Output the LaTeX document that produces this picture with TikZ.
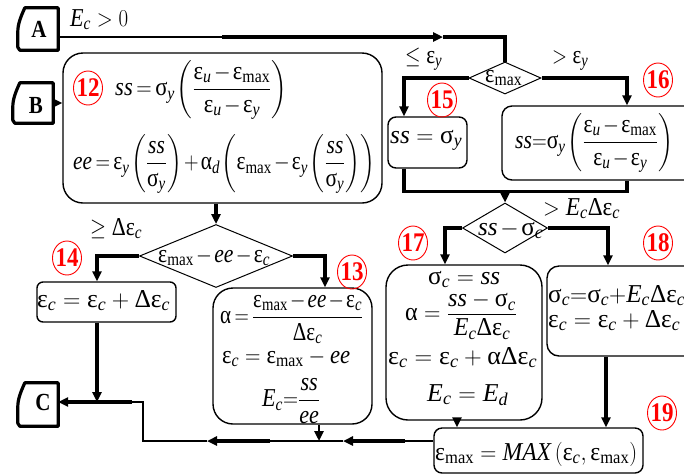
\documentclass[tikz,border=0pt]{standalone}
\usepackage{amsmath}
\usepackage{fontspec}
\setmainfont{Liberation Serif}
\usepackage{graphicx}
\usetikzlibrary{arrows.meta,shapes.geometric,calc}
\newcommand\Eps{\text{ε}}
\newcommand\Sig{\text{σ}}
\newcommand\Alp{\text{α}}
\newcommand\Del{\text{Δ}}
\newcommand\Vi[1]{\text{\itshape #1}}
\newcommand\Mx{\text{max}}
\newcommand\sy[1]{\scalebox{1}[1.17]{#1}}
\newcommand\fw[2]{\resizebox{#1pt}{1.17\height}{#2}}
\newcommand\shiftpart[2]{\smash{\raisebox{#1}{$\displaystyle #2$}}}
\newcommand\tight{\thinmuskip=1.5mu\medmuskip=2mu\thickmuskip=3mu}
\newcommand\tape[1]{\draw[tapeline] ($(#1.north west)+(7,0)$) .. controls ($(#1.north west)+(3,9)$) and ($(#1.north west)+(0,16)$) .. ($(#1.north west)+(0,24)$) -- ($(#1.south west)+(0,-3)$) -- ($(#1.south west)+(2,0)$) -- (#1.south east) -- (#1.north east) -- cycle;}
\begin{document}
\begin{tikzpicture}[x=1pt,y=-1pt,>={Triangle[length=10pt,width=9pt]},
  thickc/.style={line width=3.5pt},
  thinc/.style={line width=1.8pt},
  medc/.style={line width=2.5pt},
  box/.style={draw, rectangle, line width=1.4pt, inner sep=0pt},
  dia/.style={draw, diamond, line width=1pt, inner sep=0pt},
  tapeline/.style={line width=3.2pt, line join=round},
  tapebox/.style={rectangle, inner sep=0pt},
  lett/.style={inner sep=0pt, font=\fontsize{21}{21}\selectfont\bfseries},
  numtxt/.style={inner sep=0pt, text=red, font=\fontsize{23}{23}\selectfont\bfseries},
  numring/.style={draw=red, line width=0.9pt},
  eq/.style={inner sep=0pt, anchor=base west, font=\fontsize{22}{26}\selectfont},
  eqt/.style={eq, font=\fontsize{22}{26}\selectfont\tight}]
\useasboundingbox (0,0) rectangle (684,475);
\clip (0,0) rectangle (684,475);
% terminal boxes
\node[tapebox, minimum width=40pt, minimum height=42pt] (A) at (38,29) {};
\node[tapebox, minimum width=40pt, minimum height=40pt] (B) at (33,103) {};
\node[tapebox, minimum width=40pt, minimum height=43pt] (C) at (38,404.5) {};
\tape{A}\tape{B}\tape{C}
\node[lett] (tA) at (39,29) {\sy{A}};
\node[lett] (tB) at (36,105) {\sy{B}};
\node[lett] (tC) at (43,402) {\sy{C}};
% process boxes
\node[box, rounded corners=20pt, minimum width=319pt, minimum height=150pt] (b12) at (222.5,128) {};
\node[box, rounded corners=8pt, minimum width=79pt, minimum height=51pt] (b15) at (427.5,142.5) {};
\node[box, rounded corners=10pt, minimum width=198pt, minimum height=74pt] (b16) at (601,143) {};
\node[box, rounded corners=6pt, minimum width=139pt, minimum height=40pt] (b14) at (106.5,302) {};
\node[box, rounded corners=20pt, minimum width=159pt, minimum height=136pt] (b13) at (292.5,356) {};
\node[box, rounded corners=22pt, minimum width=156pt, minimum height=155pt] (b17) at (464,342.5) {};
\node[box, rounded corners=12pt, minimum width=153pt, minimum height=90pt] (b18) at (623.5,311) {};
\node[box, rounded corners=8pt, minimum width=209pt, minimum height=45pt] (b19) at (538.5,450.5) {};
% decisions
\node[dia, minimum width=72pt, minimum height=32pt] (D1) at (505,78) {};
\node[dia, minimum width=85pt, minimum height=50pt] (D2) at (505,228) {};
\node[dia, minimum width=153pt, minimum height=63pt] (D3) at (216,256) {};
% labels on branches
\node[eq] (lEc) at (70,26) {\fw{58}{$\Vi{E}_{\Vi c}>0$}};
\node[eq] (lle) at (405,63) {\fw{37}{$\le\Eps_{\Vi y}$}};
\node[eq] (lgt) at (552,63) {\fw{36}{$>\Eps_{\Vi y}$}};
\node[eq] (lge) at (90,235) {\fw{52}{$\ge\Del\Eps_{\Vi c}$}};
\node[eq] (lgE) at (543,215) {\fw{77}{$>\Vi E_{\Vi c}\Del\Eps_{\Vi c}$}};
% decision texts
\node[eqt] (tD1) at (485,82) {\fw{37}{$\Eps_{\Mx}$}};
\node[eqt] (tD2) at (478,235) {\fw{65}{$\Vi{ss}-\Sig_{\Vi c}$}};
\node[eqt] (tD3) at (158,262) {\fw{112}{$\Eps_{\Mx}-\Vi{ee}-\Eps_{\Vi c}$}};
% box texts
\node[eqt] (t12a) at (115,95.5) {\fw{172}{$\Vi{ss}=\Sig_{\Vi{y}}\left(\dfrac{\Eps_{\Vi{u}}-\Eps_{\Mx}}{\Eps_{\Vi{u}}-\Eps_{\Vi{y}}}\right)$}};
\node[eqt] (t12b) at (73,169.5) {\fw{302}{$\Vi{ee}=\Eps_{\Vi y}\left(\dfrac{\Vi{ss}}{\Sig_{\Vi y}}\right)+\Alp_{\Vi d}\left(\Eps_{\Mx}-\Eps_{\Vi y}\left(\dfrac{\Vi{ss}}{\Sig_{\Vi y}}\right)\right)$}};
\node[eq] (t15) at (390,143) {\fw{72}{$\Vi{ss}=\Sig_{\Vi y}$}};
\node[eqt] (t16) at (515,148.5) {\fw{158}{$\Vi{ss}{=}\Sig_{\Vi{y}}\left(\dfrac{\Eps_{\Vi{u}}-\Eps_{\Mx}}{\Eps_{\Vi{u}}-\Eps_{\Vi{y}}}\right)$}};
\node[eq] (t14) at (37,307) {\fw{133}{$\Eps_{\Vi c}=\Eps_{\Vi c}+\Del\Eps_{\Vi c}$}};
\node[eqt] (t13a) at (220,323.5) {\fw{143}{$\Alp=\dfrac{\Eps_{\Mx}-\Vi{ee}-\Eps_{\Vi c}}{\Del\Eps_{\Vi c}}$}};
\node[eq] (t13b) at (222,363) {\fw{128}{$\Eps_{\Vi c}=\Eps_{\Mx}-\Vi{ee}$}};
\node[eqt] (t13c) at (262,406.5) {\fw{58}{$\Vi E_{\Vi c}{=}\dfrac{\Vi{ss}}{\Vi{ee}}$}};
\node[eq] (t17a) at (428,284) {\fw{72}{$\Sig_{\Vi c}=\Vi{ss}$}};
\node[eq] (t17b) at (405,320.5) {\fw{112}{$\Alp=\dfrac{\shiftpart{-2pt}{\Vi{ss}-\Sig_{\Vi c}}}{\shiftpart{1.5pt}{\Vi E_{\Vi c}\Del\Eps_{\Vi c}}}$}};
\node[eq] (t17c) at (388,364) {\fw{149}{$\Eps_{\Vi c}=\Eps_{\Vi c}+\Alp\Del\Eps_{\Vi c}$}};
\node[eq] (t17d) at (427,401) {\fw{81}{$\Vi E_{\Vi c}=\Vi E_{\Vi d}$}};
\node[eqt] (t18a) at (548,302) {\fw{137}{$\Sig_{\Vi c}{=}\Sig_{\Vi c}{+}\Vi E_{\Vi c}\Del\Eps_{\Vi c}$}};
\node[eq] (t18b) at (548,327) {\fw{132}{$\Eps_{\Vi c}=\Eps_{\Vi c}+\Del\Eps_{\Vi c}$}};
\node[eq] (t19) at (435,460) {\fw{202}{$\Eps_{\Mx}=\Vi{MAX}\left(\Eps_{\Vi c},\Eps_{\Mx}\right)$}};
% numbers
\foreach \n/\x/\y in {12/88/88,13/352/272,14/67/258,15/442/100,16/658/80,17/413/243,18/658/243,19/662/413}{
  \node[numtxt] (n\n) at (\x,\y) {\sy{\n}};
  \draw[numring] (n\n.center) ellipse [x radius=14.5pt, y radius=17pt];
}
% connectors
\coordinate (k1) at (222,37);
\coordinate (k2) at (443,37);
\draw[thinc] ([yshift=-8pt]A.east) -- (k1);
\draw[thickc,->] (k1) -- (k2);
\draw[thickc] (k2) -| (D1.north);
\draw[medc,->] (B.east) -- (b12.west |- B.east);
\draw[thickc,->] (D1.west) -| ([xshift=-23.5pt]b15.north);
\draw[thickc,->] (D1.east) -| ([xshift=26pt]b16.north);
\draw[thickc] ([xshift=-23.5pt]b15.south) -- ++(0,23) -| ([xshift=26pt]b16.south);
\draw[thickc,->] (D2.north |- 0,191) -- (D2.north);
\draw[thickc,->] (D2.west) -| ([xshift=-19pt]b17.north);
\draw[thickc,->] (D2.east) -| ([xshift=-15.5pt]b18.north);
\draw[medc,->] ([xshift=-7pt]b17.south) -- ([xshift=-7pt]b17.south |- b19.north);
\draw[thickc,->] ([xshift=-17.5pt]b18.south) -- ([xshift=-17.5pt]b18.south |- b19.north);
\draw[thickc,->] (b12.south -| D3.north) -- (D3.north);
\draw[thickc,->] (D3.west) -| ([xshift=-9.5pt]b14.north);
\draw[thickc,->] (D3.east) -| ([xshift=32.5pt]b13.north);
\coordinate (r1) at (405,441);
\coordinate (r2) at (343,441);
\coordinate (r3) at (270,441);
\coordinate (r4) at (207,441);
\coordinate (r5) at (143,441);
\coordinate (r6) at (143,402);
\coordinate (r7) at (132,402);
\draw[thinc] ([yshift=9.5pt]b19.west) -- (r1);
\draw[thickc,->] (r1) -- (r2);
\draw[thinc] (r2) -- (r3);
\draw[thickc,->] (r3) -- (r4);
\draw[thinc] (r4) -- (r5) -- (r6) -- (r7);
\draw[thickc,->] (r7) -- (C.east |- r7);
\draw[medc,->] ([xshift=26.5pt]b13.south) -- ([xshift=26.5pt]b13.south |- r1);
\draw[thickc,->] ([xshift=-9.5pt]b14.south) -- ([xshift=-9.5pt]b14.south |- r7);
\end{tikzpicture}
\end{document}
